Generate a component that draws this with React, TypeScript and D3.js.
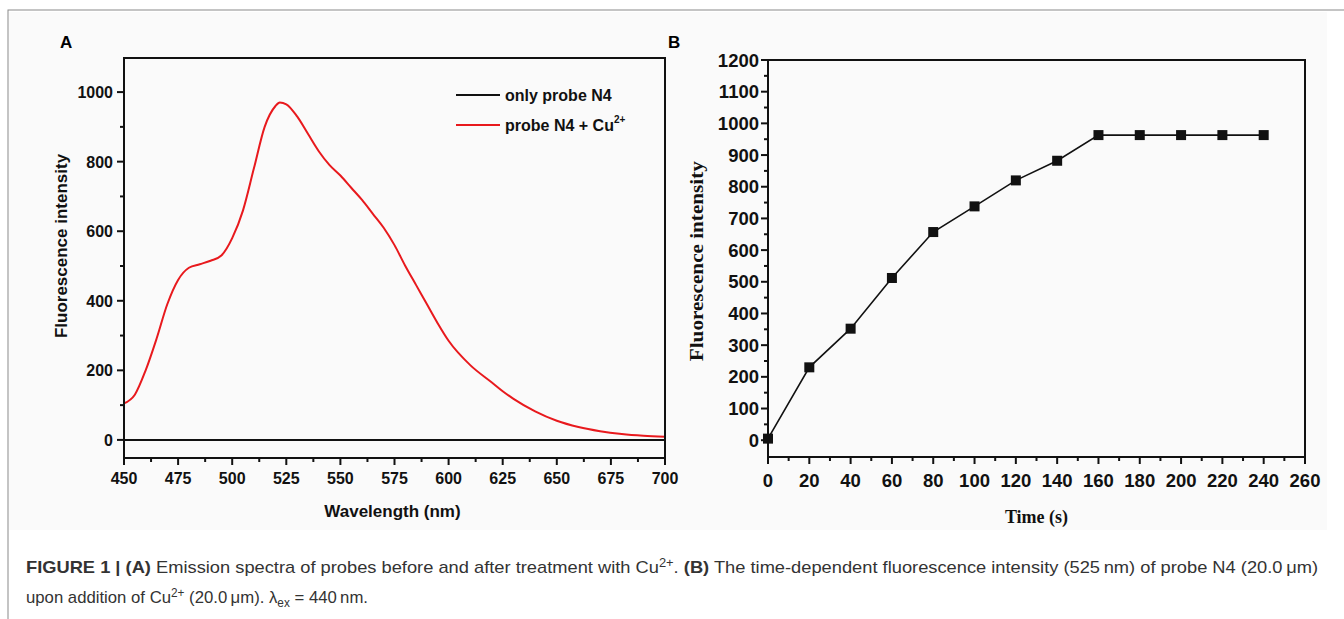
import React, { useEffect, useRef } from 'react';
import * as d3 from 'd3';

// Panel A: emission spectra
const wavelengths = [450, 455, 460, 465, 470, 475, 480, 485, 490, 495, 500, 505, 510, 515, 520, 522, 525, 530, 535, 540, 545, 550, 555, 560, 565, 570, 575, 580, 585, 590, 595, 600, 610, 620, 625, 630, 640, 650, 660, 670, 680, 690, 700];
const probeCu = [105, 130, 200, 290, 390, 460, 495, 505, 515, 530, 580, 660, 780, 900, 960, 970, 965, 930, 880, 830, 790, 760, 725, 690, 650, 610, 560, 500, 445, 390, 335, 285, 215, 165, 140, 118, 82, 55, 37, 25, 17, 12, 9];
const probeOnly = wavelengths.map(() => 0);
const xTicksA = [450, 475, 500, 525, 550, 575, 600, 625, 650, 675, 700];
const yTicksA = [0, 200, 400, 600, 800, 1000];

// Panel B: time course
const times = [0, 20, 40, 60, 80, 100, 120, 140, 160, 180, 200, 220, 240];
const intensity = [5, 230, 352, 512, 657, 738, 820, 882, 963, 963, 963, 963, 963];
const xTicksB = d3.range(0, 261, 20);
const yTicksB = d3.range(0, 1201, 100);

const SANS = '"Liberation Sans", Arial, sans-serif';
const SERIF = '"Liberation Serif", "Times New Roman", serif';

type Part = [string, string];

export default function App() {
  const svgRef = useRef<SVGSVGElement | null>(null);

  useEffect(() => {
    const svgEl = svgRef.current;
    if (!svgEl) return;
    const svg = d3.select(svgEl);
    svg.selectAll('*').remove();

    // figure background + frame
    svg.append('rect').attr('x', 0).attr('y', 0).attr('width', 1344).attr('height', 619).attr('fill', '#fff');
    svg.append('rect').attr('x', 9).attr('y', 12).attr('width', 1318).attr('height', 518).attr('fill', '#fafafa');
    svg.append('rect').attr('x', 8).attr('y', 10).attr('width', 1400).attr('height', 700)
      .attr('fill', 'none').attr('stroke', '#8a8a8a').attr('stroke-width', 1);

    // ---------- Panel A ----------
    const A = { left: 124, right: 665, top: 58, bottom: 458 };
    const xA = d3.scaleLinear().domain([450, 700]).range([A.left, A.right]);
    const yA = d3.scaleLinear().domain([-52, 1098]).range([A.bottom, A.top]);
    const gA = svg.append('g');

    gA.append('text').attr('x', 60).attr('y', 48).text('A')
      .attr('font-family', SANS).attr('font-weight', 'bold').attr('font-size', 17);

    const lineA = d3.line<number>().x((_, i) => xA(wavelengths[i])).y(d => yA(d)).curve(d3.curveMonotoneX);
    gA.append('path').datum(probeOnly).attr('d', lineA).attr('fill', 'none').attr('stroke', '#111').attr('stroke-width', 2);
    gA.append('path').datum(probeCu).attr('d', lineA).attr('fill', 'none').attr('stroke', '#e8191d').attr('stroke-width', 2);

    gA.append('rect').attr('x', A.left).attr('y', A.top).attr('width', A.right - A.left).attr('height', A.bottom - A.top)
      .attr('fill', 'none').attr('stroke', '#111').attr('stroke-width', 2);

    // x ticks
    const minorXA = d3.range(462.5, 700, 25);
    gA.selectAll('line.xmaj').data(xTicksA).enter().append('line')
      .attr('x1', d => xA(d)).attr('x2', d => xA(d)).attr('y1', A.bottom).attr('y2', A.bottom + 7)
      .attr('stroke', '#111').attr('stroke-width', 2);
    gA.selectAll('line.xmin').data(minorXA).enter().append('line')
      .attr('x1', d => xA(d)).attr('x2', d => xA(d)).attr('y1', A.bottom).attr('y2', A.bottom + 4)
      .attr('stroke', '#111').attr('stroke-width', 2);
    gA.selectAll('text.xl').data(xTicksA).enter().append('text')
      .attr('x', d => xA(d)).attr('y', 484).attr('text-anchor', 'middle').text(d => d)
      .attr('font-family', SANS).attr('font-weight', 'bold').attr('font-size', 16).attr('fill', '#111');

    // y ticks
    const minorYA = d3.range(100, 1001, 200);
    gA.selectAll('line.ymaj').data(yTicksA).enter().append('line')
      .attr('x1', A.left - 7).attr('x2', A.left).attr('y1', d => yA(d)).attr('y2', d => yA(d))
      .attr('stroke', '#111').attr('stroke-width', 2);
    gA.selectAll('line.ymin').data(minorYA).enter().append('line')
      .attr('x1', A.left - 4).attr('x2', A.left).attr('y1', d => yA(d)).attr('y2', d => yA(d))
      .attr('stroke', '#111').attr('stroke-width', 2);
    gA.selectAll('text.yl').data(yTicksA).enter().append('text')
      .attr('x', A.left - 11).attr('y', d => yA(d) + 6).attr('text-anchor', 'end').text(d => d)
      .attr('font-family', SANS).attr('font-weight', 'bold').attr('font-size', 16).attr('fill', '#111');

    gA.append('text').attr('x', (A.left + A.right) / 2 - 2).attr('y', 517).attr('text-anchor', 'middle')
      .text('Wavelength (nm)').attr('font-family', SANS).attr('font-weight', 'bold').attr('font-size', 17).attr('fill', '#111');
    gA.append('text').attr('transform', `translate(67,${(yA(0) + yA(1000)) / 2 - 20}) rotate(-90)`).attr('text-anchor', 'middle')
      .text('Fluorescence intensity').attr('font-family', SANS).attr('font-weight', 'bold').attr('font-size', 17).attr('fill', '#111');

    // legend
    const leg = [
      { label: 'only probe N4', color: '#111', sup: '' },
      { label: 'probe N4 + Cu', color: '#e8191d', sup: '2+' },
    ];
    leg.forEach((l, i) => {
      const y = 95 + i * 30;
      gA.append('line').attr('x1', 456).attr('x2', 500).attr('y1', y).attr('y2', y).attr('stroke', l.color).attr('stroke-width', 2);
      const t = gA.append('text').attr('x', 505).attr('y', y + 6)
        .attr('font-family', SANS).attr('font-weight', 'bold').attr('font-size', 16).attr('fill', '#111');
      t.append('tspan').text(l.label);
      if (l.sup) t.append('tspan').attr('dy', -8).attr('font-size', 10).text(l.sup);
    });

    // ---------- Panel B ----------
    const B = { left: 768, right: 1305, top: 60, bottom: 457 };
    const xB = d3.scaleLinear().domain([0, 260]).range([B.left, B.right]);
    const yB = d3.scaleLinear().domain([-53, 1200]).range([B.bottom, B.top]);
    const gB = svg.append('g');

    gB.append('text').attr('x', 668).attr('y', 48).text('B')
      .attr('font-family', SANS).attr('font-weight', 'bold').attr('font-size', 17);

    gB.append('rect').attr('x', B.left).attr('y', B.top).attr('width', B.right - B.left).attr('height', B.bottom - B.top)
      .attr('fill', 'none').attr('stroke', '#111').attr('stroke-width', 2);

    const minorXB = d3.range(10, 260, 20);
    gB.selectAll('line.xmaj').data(xTicksB).enter().append('line')
      .attr('x1', d => xB(d)).attr('x2', d => xB(d)).attr('y1', B.bottom).attr('y2', B.bottom + 7)
      .attr('stroke', '#111').attr('stroke-width', 2);
    gB.selectAll('line.xmin').data(minorXB).enter().append('line')
      .attr('x1', d => xB(d)).attr('x2', d => xB(d)).attr('y1', B.bottom).attr('y2', B.bottom + 4)
      .attr('stroke', '#111').attr('stroke-width', 2);
    gB.selectAll('text.xl').data(xTicksB).enter().append('text')
      .attr('x', d => xB(d)).attr('y', 487).attr('text-anchor', 'middle').text(d => d)
      .attr('font-family', SANS).attr('font-weight', 'bold').attr('font-size', 18.5).attr('fill', '#111');

    const minorYB = d3.range(50, 1200, 100);
    gB.selectAll('line.ymaj').data(yTicksB).enter().append('line')
      .attr('x1', B.left - 7).attr('x2', B.left).attr('y1', d => yB(d)).attr('y2', d => yB(d))
      .attr('stroke', '#111').attr('stroke-width', 2);
    gB.selectAll('line.ymin').data(minorYB).enter().append('line')
      .attr('x1', B.left - 4).attr('x2', B.left).attr('y1', d => yB(d)).attr('y2', d => yB(d))
      .attr('stroke', '#111').attr('stroke-width', 2);
    gB.selectAll('text.yl').data(yTicksB).enter().append('text')
      .attr('x', B.left - 9).attr('y', d => yB(d) + 6.5).attr('text-anchor', 'end').text(d => d)
      .attr('font-family', SANS).attr('font-weight', 'bold').attr('font-size', 18.5).attr('fill', '#111');

    gB.append('text').attr('x', xB(130)).attr('y', 523).attr('text-anchor', 'middle')
      .text('Time (s)').attr('font-family', SERIF).attr('font-weight', 'bold').attr('font-size', 18).attr('fill', '#111');
    gB.append('text').attr('transform', `translate(703,${yB(565)}) rotate(-90)`).attr('text-anchor', 'middle')
      .attr('textLength', 200).attr('lengthAdjust', 'spacingAndGlyphs')
      .text('Fluorescence intensity').attr('font-family', SERIF).attr('font-weight', 'bold').attr('font-size', 18).attr('fill', '#111');

    const lineB = d3.line<number>().x((_, i) => xB(times[i])).y(d => yB(d));
    gB.append('path').datum(intensity).attr('d', lineB).attr('fill', 'none').attr('stroke', '#111').attr('stroke-width', 1.6);
    gB.selectAll('rect.pt').data(intensity).enter().append('rect')
      .attr('x', (_, i) => xB(times[i]) - 5).attr('y', d => yB(d) - 5).attr('width', 10).attr('height', 10).attr('fill', '#111');

    // ---------- Caption ----------
    const cap = svg.append('g').attr('font-family', SANS).attr('font-size', 17).attr('fill', '#333');
    const addParts = (t: any, parts: Part[]) => {
      let shift = 0;
      parts.forEach(([k, s]) => {
        const target = k === 's' ? -6 : k === 'u' ? 4 : 0;
        const sp = t.append('tspan').attr('dy', target - shift).text(s);
        shift = target;
        if (k === 's' || k === 'u') sp.attr('font-size', 12);
        if (k === 'b') sp.attr('font-weight', 'bold');
      });
    };
    const l1 = cap.append('text').attr('x', 26).attr('y', 573)
      .attr('textLength', 1292).attr('lengthAdjust', 'spacingAndGlyphs');
    addParts(l1, [
      ['b', 'FIGURE 1 | (A)'], ['n', ' Emission spectra of probes before and after treatment with Cu'], ['s', '2+'],
      ['n', '. '], ['b', '(B)'], ['n', ' The time-dependent fluorescence intensity (525\u2009nm) of probe N4 (20.0\u2009\u03bcm)'],
    ]);
    const l2 = cap.append('text').attr('x', 26).attr('y', 603)
      .attr('textLength', 342).attr('lengthAdjust', 'spacingAndGlyphs');
    addParts(l2, [['n', 'upon addition of Cu'], ['s', '2+'], ['n', ' (20.0\u2009\u03bcm). \u03bb'], ['u', 'ex'], ['n', ' = 440\u2009nm.']]);
  }, []);

  return (
    <svg
      ref={svgRef}
      width={1344}
      height={619}
      style={{ position: 'absolute', left: 0, top: 0, display: 'block' }}
    />
  );
}
